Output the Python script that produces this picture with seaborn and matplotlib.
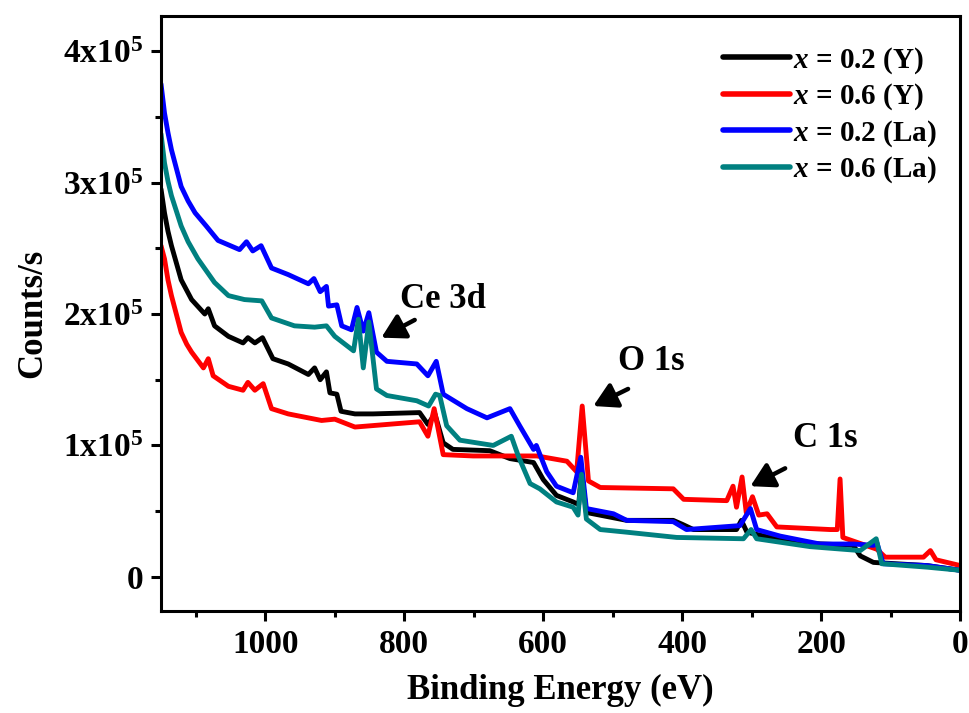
import pandas as pd
import seaborn as sns
import matplotlib.pyplot as plt
from matplotlib.ticker import MultipleLocator, FuncFormatter

# XPS survey spectra, counts in units of 1e5
labels = ["$x$ = 0.2 (Y)", "$x$ = 0.6 (Y)", "$x$ = 0.2 (La)", "$x$ = 0.6 (La)"]
colors = ["#000000", "#ff0000", "#0000ff", "#008080"]

e_y02 = [1150, 1145, 1140, 1135, 1121, 1113, 1106, 1087, 1082, 1073, 1053, 1032, 1025, 1015, 1004,
         989, 967, 938, 929, 921, 912, 907, 897, 891, 871, 845, 778, 766, 756, 744, 730, 677, 648,
         614, 600, 581, 557, 549, 545, 538, 480, 413, 400, 384, 322, 315, 307, 240, 154, 144, 125,
         48, 0]
c_y02 = [2.95, 2.77, 2.63, 2.52, 2.26, 2.18, 2.11, 2.00, 2.04, 1.91, 1.83, 1.78, 1.82, 1.78, 1.82,
         1.66, 1.62, 1.54, 1.59, 1.50, 1.56, 1.40, 1.39, 1.26, 1.24, 1.24, 1.25, 1.16, 1.24, 1.02,
         0.97, 0.96, 0.90, 0.87, 0.74, 0.62, 0.57, 0.55, 0.80, 0.49, 0.43, 0.43, 0.40, 0.36, 0.36,
         0.43, 0.34, 0.26, 0.24, 0.16, 0.11, 0.086, 0.05]

e_y06 = [1150, 1145, 1140, 1135, 1121, 1113, 1106, 1089, 1082, 1075, 1053, 1032, 1025, 1015, 1003,
         991, 967, 919, 900, 871, 778, 766, 757, 744, 701, 609, 566, 552, 544, 535, 518, 413, 398,
         336, 327, 322, 314, 308, 299, 290, 278, 264, 187, 177, 173, 169, 120, 108, 53, 43, 35, 0]
c_y06 = [2.52, 2.42, 2.26, 2.14, 1.86, 1.77, 1.71, 1.59, 1.66, 1.53, 1.45, 1.42, 1.48, 1.42, 1.47,
         1.28, 1.24, 1.19, 1.20, 1.14, 1.18, 1.07, 1.28, 0.93, 0.92, 0.92, 0.88, 0.80, 1.30, 0.73,
         0.68, 0.67, 0.59, 0.58, 0.69, 0.53, 0.76, 0.49, 0.61, 0.47, 0.48, 0.38, 0.36, 0.36, 0.745,
         0.30, 0.21, 0.15, 0.15, 0.20, 0.13, 0.086]

e_la02 = [1150, 1145, 1140, 1135, 1121, 1111, 1101, 1085, 1068, 1037, 1027, 1018, 1006, 991, 967,
          938, 930, 921, 912, 909, 897, 890, 876, 868, 859, 851, 840, 825, 782, 766, 754, 744, 710,
          681, 648, 634, 614, 610, 595, 581, 557, 546, 538, 499, 480, 413, 394, 317, 302, 293, 259,
          202, 154, 125, 120, 111, 48, 0]
c_la02 = [3.75, 3.53, 3.38, 3.25, 2.97, 2.86, 2.77, 2.67, 2.56, 2.49, 2.55, 2.48, 2.52, 2.35, 2.30,
          2.23, 2.27, 2.17, 2.21, 2.06, 2.07, 1.91, 1.88, 2.05, 1.87, 2.01, 1.71, 1.64, 1.62, 1.53,
          1.64, 1.39, 1.28, 1.21, 1.28, 1.15, 0.97, 1.00, 0.80, 0.69, 0.64, 0.91, 0.52, 0.48, 0.43,
          0.42, 0.36, 0.39, 0.52, 0.36, 0.31, 0.25, 0.25, 0.24, 0.26, 0.10, 0.086, 0.05]

e_la06 = [1150, 1145, 1140, 1135, 1121, 1111, 1097, 1073, 1053, 1030, 1005, 991, 958, 929, 912,
          900, 873, 866, 859, 851, 840, 825, 782, 765, 755, 749, 739, 720, 672, 646, 636, 619, 605,
          581, 557, 550, 545, 538, 518, 480, 408, 312, 301, 293, 216, 144, 121, 113, 48, 0]
c_la06 = [3.37, 3.15, 3.01, 2.90, 2.67, 2.55, 2.42, 2.24, 2.14, 2.11, 2.10, 1.97, 1.91, 1.90, 1.91,
          1.83, 1.72, 1.96, 1.59, 1.94, 1.43, 1.38, 1.34, 1.30, 1.39, 1.38, 1.15, 1.04, 1.00, 1.07,
          0.92, 0.71, 0.67, 0.57, 0.53, 0.47, 0.78, 0.44, 0.36, 0.34, 0.30, 0.29, 0.36, 0.29, 0.23,
          0.20, 0.29, 0.10, 0.074, 0.05]

series = [(e_y02, c_y02), (e_y06, c_y06), (e_la02, c_la02), (e_la06, c_la06)]
df = pd.concat([pd.DataFrame({"energy": e, "counts": [v * 1e5 for v in c], "sample": lab})
                for (e, c), lab in zip(series, labels)], ignore_index=True)

sns.set_style("ticks")
plt.rcParams["font.family"] = ["Liberation Serif", "DejaVu Serif"]
plt.rcParams["font.weight"] = "bold"
plt.rcParams["mathtext.fontset"] = "custom"
plt.rcParams["mathtext.rm"] = "Liberation Serif:bold"
plt.rcParams["mathtext.bf"] = "Liberation Serif:bold"
plt.rcParams["mathtext.it"] = "Liberation Serif:bold:italic"
for key in ["text.color", "axes.labelcolor", "xtick.color", "ytick.color", "axes.edgecolor"]:
    plt.rcParams[key] = "black"

fig = plt.figure(figsize=(9.7, 7.13), dpi=100)
ax = fig.add_axes([0.166, 0.143, 0.824, 0.835])

sns.lineplot(data=df, x="energy", y="counts", hue="sample", hue_order=labels,
             palette=dict(zip(labels, colors)), estimator=None, linewidth=3.5, ax=ax)

ax.set_xlim(1150, 0)
ax.set_ylim(-0.26e5, 4.27e5)
ax.xaxis.set_major_locator(MultipleLocator(200))
ax.xaxis.set_minor_locator(MultipleLocator(100))
ax.yaxis.set_major_locator(MultipleLocator(1e5))
ax.yaxis.set_minor_locator(MultipleLocator(0.5e5))


def sci(v, pos):
    n = int(round(v / 1e5))
    return "0" if n == 0 else r"$\mathbf{%dx10^5}$" % n


ax.yaxis.set_major_formatter(FuncFormatter(sci))
ax.tick_params(which="major", length=7, width=2.2, labelsize=24, pad=6)
ax.tick_params(which="minor", length=4, width=2.2)
for s in ax.spines.values():
    s.set_linewidth(2.2)

ax.set_xlabel("Binding Energy (eV)", fontsize=25, fontweight="bold", labelpad=10)
ax.set_ylabel("Counts/s", fontsize=25, fontweight="bold", labelpad=10)

arrow = dict(arrowstyle="-|>,head_length=0.7,head_width=0.4", lw=3.2, color="k",
             mutation_scale=20, shrinkA=0, shrinkB=0)
ax.annotate("", xy=(833, 1.82e5), xytext=(785, 1.955e5), arrowprops=arrow)
ax.annotate("", xy=(528, 1.30e5), xytext=(478, 1.43e5), arrowprops=arrow)
ax.annotate("", xy=(302, 0.69e5), xytext=(252, 0.826e5), arrowprops=arrow)
ax.text(744, 2.11e5, "Ce 3d", fontsize=25, fontweight="bold", ha="center", va="center")
ax.text(444, 1.64e5, "O 1s", fontsize=25, fontweight="bold", ha="center", va="center")
ax.text(194, 1.05e5, "C 1s", fontsize=25, fontweight="bold", ha="center", va="center")

leg = ax.legend(loc="upper right", bbox_to_anchor=(0.985, 0.97), frameon=False, fontsize=21,
                handlelength=2.3, handletextpad=0.1, labelspacing=0.2, borderaxespad=0)
for line in leg.get_lines():
    line.set_linewidth(4)

plt.savefig("out.png", dpi=100)
plt.close()
